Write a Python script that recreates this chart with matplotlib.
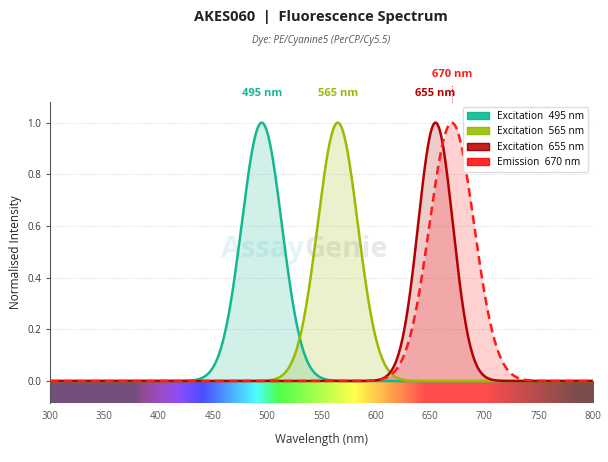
import numpy as np
import matplotlib
matplotlib.use("Agg")
from matplotlib import pyplot as plt
from matplotlib.patches import Patch

plt.rcParams['font.family'] = ['Open Sans', 'DejaVu Sans']

# peaks (nm), gaussian width (nm)
peak_nm = [495, 565, 655, 670]
width_nm = [18.5, 18.5, 16.0, 20.5]
kinds = ["Excitation", "Excitation", "Excitation", "Emission"]
line_cols = ["#14b890", "#99bb00", "#b30000", "#ff1a1a"]
patch_cols = ["#20c49c", "#a2c41e", "#c42222", "#ff2a2a"]
styles = ["-", "-", "-", (0, (3.5, 2))]
xticks = [300, 350, 400, 450, 500, 550, 600, 650, 700, 750, 800]

wl = np.linspace(300, 800, 1001)


def wl_to_rgb(w):
    # rough visible-spectrum colour, washed out like the reference bar
    if w < 380:
        r, g, b = 0.22, 0.02, 0.27
    elif w < 440:
        r, g, b = -(w - 440) / 60, 0.0, 1.0
    elif w < 490:
        r, g, b = 0.0, (w - 440) / 50, 1.0
    elif w < 510:
        r, g, b = 0.0, 1.0, -(w - 510) / 20
    elif w < 580:
        r, g, b = (w - 510) / 70, 1.0, 0.0
    elif w < 645:
        r, g, b = 1.0, -(w - 645) / 65, 0.0
    else:
        r, g, b = 1.0, 0.0, 0.0
    f = 1.0
    if 380 <= w < 420:
        f = 0.3 + 0.7 * (w - 380) / 40
    elif w > 700:
        f = max(0.26, 0.3 + 0.7 * (780 - w) / 80)
    rgb = np.array([r, g, b]) * f
    return 0.7 * rgb + 0.3


fig = plt.figure(figsize=(6.08, 4.62), dpi=100)
ax = fig.add_axes([0.0822, 0.1277, 0.8931, 0.6515])

bar = np.array([[wl_to_rgb(w) for w in wl]])
ax.imshow(bar, extent=(300, 800, -0.085, 0), aspect='auto', zorder=1,
          interpolation='bilinear')

# watermark
ax.text(534, 0.51, "Assay", ha='right', va='center', fontsize=21,
        fontweight='bold', color='#e4f3fa', zorder=0.5)
ax.text(534, 0.51, "Genie", ha='left', va='center', fontsize=21,
        fontweight='bold', color='#e8e9ec', zorder=0.5)

handles = []
for i in range(4):
    y = np.exp(-0.5 * ((wl - peak_nm[i]) / width_nm[i]) ** 2)
    ax.fill_between(wl, 0, y, color=line_cols[i], alpha=0.2, lw=0, zorder=2)
    ax.plot(wl, y, color=line_cols[i], lw=1.8, ls=styles[i], zorder=3 + i)
    handles.append(Patch(facecolor=patch_cols[i], edgecolor=line_cols[i],
                         label=kinds[i] + "  " + str(peak_nm[i]) + " nm"))

# peak labels
lab_y = [1.113, 1.113, 1.113, 1.188]
for i in range(4):
    ax.text(peak_nm[i], lab_y[i], str(peak_nm[i]) + " nm", ha='center',
            va='center', fontsize=8, fontweight='bold', color=line_cols[i],
            clip_on=False)
ax.plot([670, 670], [1.08, 1.15], color='#ff1a1a', lw=0.7, ls=':',
        clip_on=False)

ax.set_xlim(300, 800)
ax.set_ylim(-0.085, 1.08)
ax.set_xticks(xticks)
ax.set_yticks([0.0, 0.2, 0.4, 0.6, 0.8, 1.0])
ax.tick_params(axis='x', length=0, pad=6, labelsize=7, labelcolor='#555555')
ax.tick_params(axis='y', length=3, labelsize=7, labelcolor='#333333',
               color='#555555')
for s in ['top', 'right', 'bottom']:
    ax.spines[s].set_visible(False)
ax.spines['left'].set_color('#555555')
ax.grid(axis='y', ls=':', color='#dddddd', lw=0.8, zorder=0)
ax.set_axisbelow(True)

ax.set_xlabel("Wavelength (nm)", fontsize=8.5, color='#333333', labelpad=8)
ax.set_ylabel("Normalised Intensity", fontsize=8.5, color='#222222')

leg = ax.legend(handles=handles, loc='upper right', fontsize=7.3,
                frameon=True, framealpha=1, edgecolor='#dddddd',
                handlelength=2.1, handletextpad=0.8, labelspacing=0.42)
leg.set_zorder(10)

fig.text(0.528, 0.9625, "AKES060  |  Fluorescence Spectrum", ha='center',
         va='center', fontsize=10.5, fontweight='bold', color='#222222')
fig.text(0.528, 0.912, "Dye: PE/Cyanine5 (PerCP/Cy5.5)", ha='center',
         va='center', fontsize=7.2, style='italic', color='#555555')

fig.savefig("out.png", dpi=100)
